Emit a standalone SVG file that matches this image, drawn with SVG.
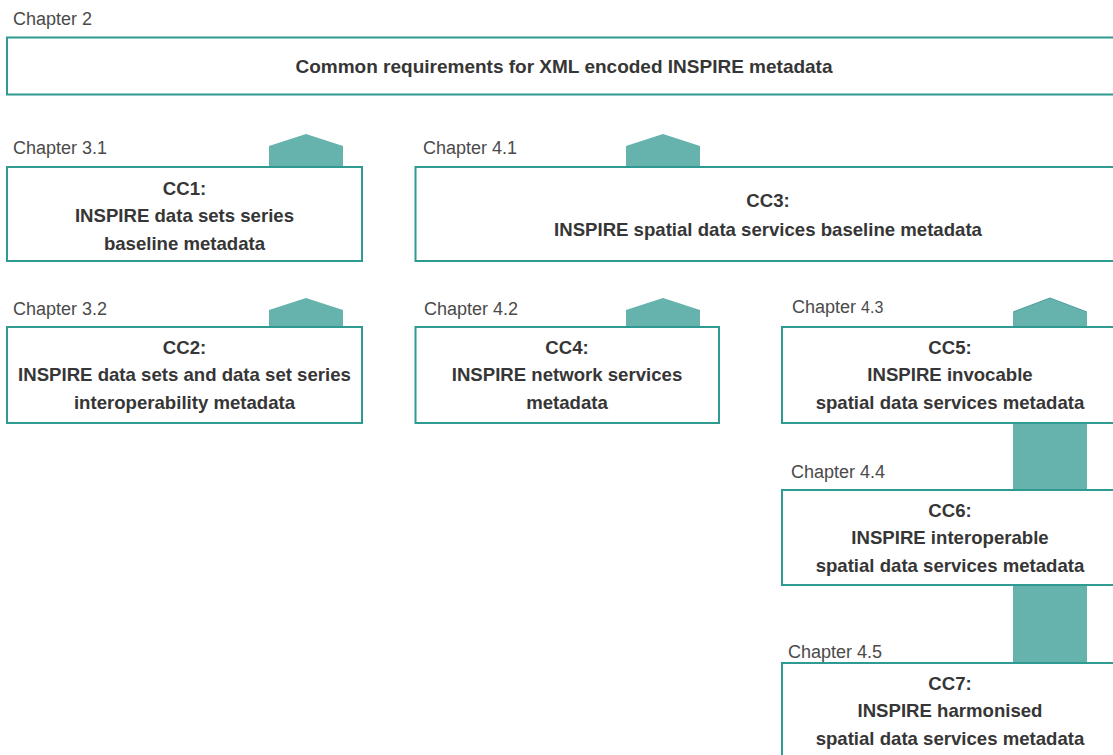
<svg xmlns="http://www.w3.org/2000/svg" width="1113" height="755" viewBox="0 0 1113 755">
<style>
.box{fill:#ffffff;stroke:#2e9a92;stroke-width:2}
.arr{fill:#66b2ad;stroke:none}
.ch{font-family:"Liberation Sans",Arial,sans-serif;font-size:18px;fill:#4a4a4a}
.t{font-family:"Liberation Sans",Arial,sans-serif;font-size:18.6px;font-weight:bold;fill:#363636;text-anchor:middle}
</style>
<rect width="1113" height="755" fill="#ffffff"/>
<g id="connectors">
<polygon class="arr" points="269,167 269,146 306,134 343,146 343,167"/>
<polygon class="arr" points="626,167 626,146 663,134 700,146 700,167"/>
<polygon class="arr" points="269,327 269,310 306,298 343,310 343,327"/>
<polygon class="arr" points="626,327 626,310 663,298 700,310 700,327"/>
<polygon class="arr" points="1013,490 1013,312 1050,298 1087,312 1087,490"/>
<polyline points="1013,312 1050,298 1087,312" fill="none" stroke="#4f9f9a" stroke-width="1"/>
<rect class="arr" x="1013" y="580" width="74" height="88"/>
</g>
<g id="common">
<text class="ch" x="13" y="25">Chapter 2</text>
<rect class="box" x="7" y="37.5" width="1114" height="57"/>
<text class="t" x="564" y="73" style="font-size:19px">Common requirements for XML encoded INSPIRE metadata</text>
</g>
<g id="cc1">
<text class="ch" x="13" y="154">Chapter 3.1</text>
<rect class="box" x="7" y="167" width="355" height="94"/>
<text class="t" x="184.5" y="195">CC1:</text>
<text class="t" x="184.5" y="222">INSPIRE data sets series</text>
<text class="t" x="184.5" y="250">baseline metadata</text>
</g>
<g id="cc3">
<text class="ch" x="423" y="154">Chapter 4.1</text>
<rect class="box" x="415.5" y="167" width="705" height="94"/>
<text class="t" x="768" y="207">CC3:</text>
<text class="t" x="768" y="236">INSPIRE spatial data services baseline metadata</text>
</g>
<g id="cc2">
<text class="ch" x="13" y="315">Chapter 3.2</text>
<rect class="box" x="7" y="327" width="355" height="96"/>
<text class="t" x="184.5" y="354">CC2:</text>
<text class="t" x="184.5" y="381">INSPIRE data sets and data set series</text>
<text class="t" x="184.5" y="409">interoperability metadata</text>
</g>
<g id="cc4">
<text class="ch" x="424" y="315">Chapter 4.2</text>
<rect class="box" x="415.5" y="327" width="303.5" height="96"/>
<text class="t" x="567" y="354">CC4:</text>
<text class="t" x="567" y="381">INSPIRE network services</text>
<text class="t" x="567" y="409">metadata</text>
</g>
<g id="cc5">
<text class="ch" x="792" y="313">Chapter <tspan style="font-size:16px">4.3</tspan></text>
<rect class="box" x="782" y="327" width="338" height="96"/>
<text class="t" x="950" y="354">CC5:</text>
<text class="t" x="950" y="381">INSPIRE invocable</text>
<text class="t" x="950" y="409">spatial data services metadata</text>
</g>
<g id="cc6">
<text class="ch" x="791" y="478">Chapter 4.4</text>
<rect class="box" x="782" y="490" width="338" height="95"/>
<text class="t" x="950" y="517">CC6:</text>
<text class="t" x="950" y="544">INSPIRE interoperable</text>
<text class="t" x="950" y="572">spatial data services metadata</text>
</g>
<g id="cc7">
<text class="ch" x="788" y="658">Chapter 4.5</text>
<rect class="box" x="782" y="663" width="338" height="100"/>
<text class="t" x="950" y="690">CC7:</text>
<text class="t" x="950" y="717">INSPIRE harmonised</text>
<text class="t" x="950" y="745">spatial data services metadata</text>
</g>
</svg>
